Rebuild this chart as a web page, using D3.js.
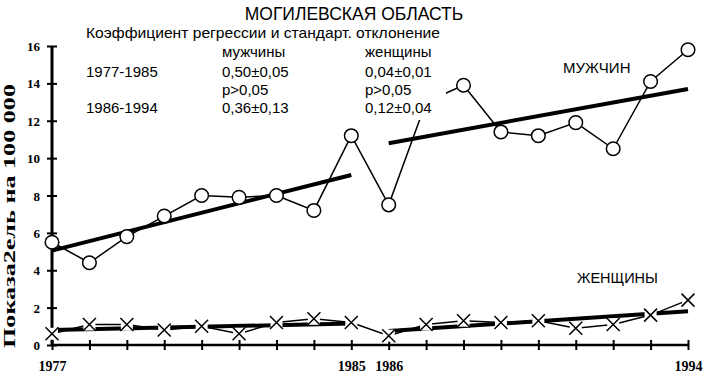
<!DOCTYPE html>
<html>
<head>
<meta charset="utf-8">
<script src="https://cdn.jsdelivr.net/npm/d3@7"></script>
<style>
  html, body { margin: 0; padding: 0; background: #fff; }
  svg { display: block; }
</style>
</head>
<body>
<svg id="chart" width="703" height="373"></svg>
<script>
const years = [1977,1978,1979,1980,1981,1982,1983,1984,1985,1986,1987,1988,1989,1990,1991,1992,1993,1994];
const men   = [5.5,4.4,5.8,6.9,8.0,7.9,8.0,7.2,11.2,7.5,13.0,13.9,11.4,11.2,11.9,10.5,14.1,15.8];
const women = [0.6,1.1,1.1,0.8,1.0,0.6,1.2,1.4,1.2,0.5,1.1,1.3,1.2,1.3,0.9,1.1,1.6,2.4];
const menTrend1   = [[1977,5.05],[1985,9.1]];
const menTrend2   = [[1986,10.8],[1994,13.7]];
const womenTrend1 = [[1977,0.8],[1985,1.15]];
const womenTrend2 = [[1986,0.75],[1994,1.8]];
const yTicks = [0,2,4,6,8,10,12,14,16];
const xLabelYears = [1977,1985,1986,1994];

const title = "МОГИЛЕВСКАЯ ОБЛАСТЬ";
const yTitle = "Показа2ель на 100 000";
const tableRows = [
  ["Коэффициент регрессии и стандарт. отклонение", "", ""],
  ["", "мужчины", "женщины"],
  ["1977-1985", "0,50±0,05", "0,04±0,01"],
  ["", "p>0,05", "p>0,05"],
  ["1986-1994", "0,36±0,13", "0,12±0,04"]
];

const svg = d3.select("#chart");
const x = d3.scaleLinear().domain([1977,1994]).range([52,688]);
const y = d3.scaleLinear().domain([0,16]).range([345,46]);

// Axes
const xAxis = d3.axisBottom(x).tickValues(years).tickSize(5)
  .tickFormat(d => xLabelYears.includes(d) ? String(d) : "");
const gx = svg.append("g").attr("transform", `translate(0,${y(0)})`).call(xAxis);
gx.select(".domain").attr("d", `M${x(1977)},0H${x(1994)}`).attr("stroke","#000").attr("stroke-width",2.5);
gx.selectAll(".tick line").attr("y1",-5).attr("y2",5).attr("stroke","#000").attr("stroke-width",2);
gx.selectAll(".tick text").attr("y",26).attr("dy",0)
  .attr("font-family","'Liberation Serif', serif").attr("font-weight","bold").attr("font-size",14).attr("fill","#000");

const yAxis = d3.axisLeft(y).tickValues(yTicks).tickSize(5).tickFormat(d3.format("d"));
const gy = svg.append("g").attr("transform", `translate(${x(1977)},0)`).call(yAxis);
gy.select(".domain").attr("d", `M0,${y(16)}V${y(0)}`).attr("stroke","#000").attr("stroke-width",3);
gy.selectAll(".tick line").attr("x1",-5).attr("x2",5).attr("stroke","#000").attr("stroke-width",2);
gy.selectAll(".tick text").attr("x",-12).attr("dy","0.35em")
  .attr("font-family","'Liberation Serif', serif").attr("font-weight","bold").attr("font-size",13).attr("fill","#000");

// Y title
svg.append("text")
  .attr("transform","translate(15,216) rotate(-90)")
  .attr("text-anchor","middle")
  .attr("font-family","'Liberation Serif', serif").attr("font-weight","bold").attr("font-size",17)
  .attr("textLength",264).attr("lengthAdjust","spacingAndGlyphs")
  .text(yTitle);

const line = d3.line().x(d => x(d[0])).y(d => y(d[1]));

// Trend lines
[menTrend1, menTrend2, womenTrend1, womenTrend2].forEach(t => {
  svg.append("path").attr("d", line(t)).attr("fill","none").attr("stroke","#000").attr("stroke-width",4);
});

// Data lines
const menPts = years.map((yr,i) => [yr, men[i]]);
const womenPts = years.map((yr,i) => [yr, women[i]]);
svg.append("path").attr("d", line(menPts)).attr("fill","none").attr("stroke","#000").attr("stroke-width",1.5);
svg.append("path").attr("d", line(womenPts)).attr("fill","none").attr("stroke","#000").attr("stroke-width",1.5);

// Women markers (X with white background)
const xm = svg.append("g").selectAll("g").data(womenPts).join("g")
  .attr("transform", d => `translate(${x(d[0])},${y(d[1])})`);
xm.append("rect").attr("x",-6).attr("y",-6).attr("width",12).attr("height",12).attr("fill","#fff");
xm.append("path").attr("d","M-6.5,-6.5L6.5,6.5M-6.5,6.5L6.5,-6.5").attr("stroke","#000").attr("stroke-width",1.5);

// Men markers (open circles)
svg.append("g").selectAll("circle").data(menPts).join("circle")
  .attr("cx", d => x(d[0])).attr("cy", d => y(d[1])).attr("r",6.8)
  .attr("fill","#fff").attr("stroke","#000").attr("stroke-width",1.5);

// Annotation box (white, covers what lies behind it)
svg.append("rect").attr("x",80).attr("y",23).attr("width",366).attr("height",97).attr("fill","#fff");

const sans = "'Liberation Sans', Arial, sans-serif";
const colX = [86, 222, 365];
const rowY = [38, 57, 77, 95, 113];
tableRows.forEach((row, ri) => {
  row.forEach((txt, ci) => {
    if (!txt) return;
    const t = svg.append("text").attr("x", colX[ci]).attr("y", rowY[ri])
      .attr("font-family", sans).attr("font-size", 15).attr("fill","#000").text(txt);
    if (ri === 0) t.attr("textLength", 354).attr("lengthAdjust","spacingAndGlyphs");
  });
});

// Title
svg.append("text").attr("x",354).attr("y",20).attr("text-anchor","middle")
  .attr("font-family", sans).attr("font-size",17.5).attr("fill","#000").text(title);

// Series labels
svg.append("text").attr("x",563).attr("y",73)
  .attr("font-family", sans).attr("font-size",15).attr("fill","#000").text("МУЖЧИН");
svg.append("text").attr("x",577).attr("y",283)
  .attr("font-family", sans).attr("font-size",14.5).attr("fill","#000").text("ЖЕНЩИНЫ");
</script>
</body>
</html>
